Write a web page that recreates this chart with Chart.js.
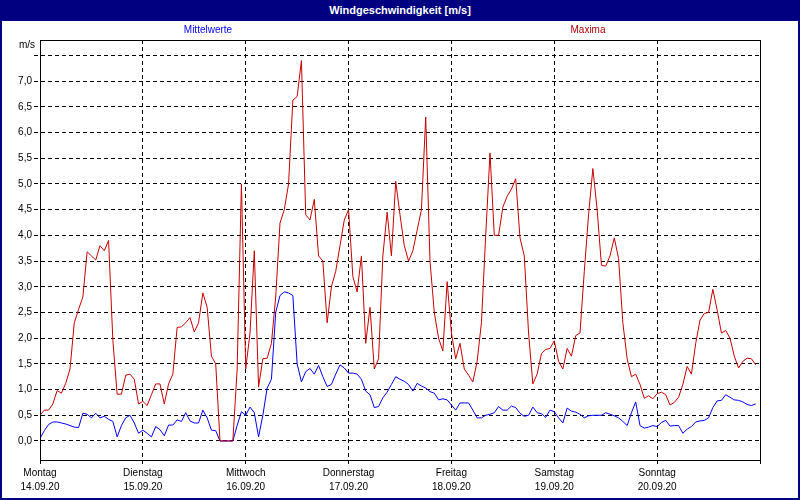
<!DOCTYPE html>
<html>
<head>
<meta charset="utf-8">
<title>Windgeschwindigkeit</title>
<script src="https://cdn.jsdelivr.net/npm/chart.js@4.4.1/dist/chart.umd.min.js"></script>
<style>
  body { margin: 0; background: #fff; }
  #wrap { position: relative; width: 800px; height: 500px; overflow: hidden; background: #fff;
          font-family: "Liberation Sans", Arial, sans-serif; }
  #chart { position: absolute; left: 0; top: 0; }
  #titlebar { position: absolute; left: 0; top: 0; width: 800px; height: 21px; background: #000080;
              color: #fff; font-weight: bold; font-size: 11px; line-height: 21px; text-align: center; }
  #edge { position: absolute; left: 0; top: 0; width: 800px; height: 500px; box-sizing: border-box;
          border: 2px solid #000080; pointer-events: none; }
  .lbl { position: absolute; font-size: 10px; line-height: 12px; white-space: nowrap; }
</style>
</head>
<body>
<div id="wrap">
  <canvas id="chart" width="800" height="500"></canvas>
  <div id="titlebar">Windgeschwindigkeit [m/s]</div>
  <div class="lbl" id="unit" style="right:765px; top:39px;">m/s</div>
  <div class="lbl" id="legMean" style="left:158px; width:100px; text-align:center; top:24px; color:#0000ff;"></div>
  <div class="lbl" id="legMax" style="left:538px; width:100px; text-align:center; top:24px; color:#b00000;"></div>
  <div id="edge"></div>
</div>
<script>
// Wochenverlauf, Stundenwerte ab Montag 00:00
const dayNames = ["Montag", "Dienstag", "Mittwoch", "Donnerstag", "Freitag", "Samstag", "Sonntag"];
const dayDates = ["14.09.20", "15.09.20", "16.09.20", "17.09.20", "18.09.20", "19.09.20", "20.09.20"];
const dayTicks = [0, 24, 48, 72, 96, 120, 144, 168];
const yTicks = [0, 0.5, 1, 1.5, 2, 2.5, 3, 3.5, 4, 4.5, 5, 5.5, 6, 6.5, 7, 7.5];

const seriesNames = ["Mittelwerte", "Maxima"];

// Mittelwerte [m/s]
const meanValues = [
  0.05, 0.2, 0.32, 0.37, 0.37, 0.35, 0.33, 0.3, 0.27, 0.26, 0.54, 0.52,
  0.45, 0.54, 0.45, 0.48, 0.42, 0.38, 0.08, 0.3, 0.45, 0.5, 0.35, 0.15,
  0.21, 0.15, 0.08, 0.28, 0.22, 0.1, 0.31, 0.31, 0.41, 0.38, 0.55, 0.39,
  0.35, 0.35, 0.6, 0.45, 0.21, 0.2, 0, 0, 0, 0, 0.3, 0.57,
  0.5, 0.66, 0.55, 0.08, 0.5, 1.03, 1.2, 2.5, 2.83, 2.9, 2.88, 2.83,
  1.5, 1.15, 1.35, 1.41, 1.3, 1.47, 1.25, 1.06, 1.1, 1.3, 1.48, 1.42,
  1.32, 1.32, 1.3, 1.2, 0.97, 0.9, 0.65, 0.67, 0.84, 0.95, 1.1, 1.25,
  1.2, 1.16, 1.1, 0.97, 1.12, 1.07, 1.03, 0.96, 0.93, 0.8, 0.82, 0.8,
  0.7, 0.6, 0.74, 0.74, 0.74, 0.6, 0.45, 0.45, 0.5, 0.52, 0.55, 0.67,
  0.6, 0.6, 0.68, 0.65, 0.54, 0.48, 0.5, 0.66, 0.55, 0.53, 0.46, 0.6,
  0.57, 0.45, 0.35, 0.64, 0.58, 0.56, 0.52, 0.45, 0.49, 0.5, 0.5, 0.5,
  0.55, 0.52, 0.49, 0.45, 0.38, 0.3, 0.55, 0.76, 0.3, 0.25, 0.27, 0.3,
  0.28, 0.36, 0.4, 0.29, 0.3, 0.3, 0.15, 0.23, 0.28, 0.37, 0.39, 0.4,
  0.45, 0.65, 0.78, 0.79, 0.9, 0.85, 0.8, 0.79, 0.76, 0.71, 0.69, 0.72
];

// Maxima [m/s]
const maxValues = [
  0.5, 0.6, 0.6, 0.72, 0.98, 0.93, 1.12, 1.4, 2.3, 2.56, 2.8, 3.68,
  3.6, 3.52, 3.8, 3.7, 3.9, 1.96, 0.91, 0.91, 1.28, 1.3, 1.2, 0.72,
  0.77, 0.69, 0.9, 1.11, 1.11, 0.72, 1.11, 1.3, 2.21, 2.22, 2.3, 2.4,
  2.12, 2.3, 2.88, 2.6, 1.65, 1.5, 0, 0, 0, 0, 1.4, 5.0,
  1.4, 2.1, 3.7, 1.05, 1.6, 1.61, 1.9, 2.8, 4.24, 4.5, 5.0, 6.63,
  6.7, 7.4, 4.4, 4.3, 4.7, 3.6, 3.5, 2.3, 3.0, 3.3, 3.8, 4.3,
  4.5, 3.2, 2.9, 3.6, 1.9, 2.6, 1.4, 1.6, 3.6, 4.45, 3.6, 5.05,
  4.4, 3.8, 3.5, 3.7, 4.1, 4.5, 6.3, 3.5, 2.5, 2.0, 1.75, 3.1,
  2.1, 1.6, 1.9, 1.4, 1.28, 1.15, 1.55, 2.3, 4.0, 5.6, 4.0, 4.0,
  4.55, 4.76, 4.9, 5.1, 3.95, 3.6, 2.1, 1.11, 1.3, 1.7, 1.78, 1.8,
  1.95, 1.55, 1.4, 1.8, 1.65, 2.05, 2.1, 3.3, 4.4, 5.3, 4.5, 3.42,
  3.4, 3.6, 3.95, 3.55, 2.3, 1.6, 1.25, 1.3, 1.1, 0.83, 0.88, 0.82,
  0.92, 0.95, 0.9, 0.7, 0.75, 0.85, 1.1, 1.45, 1.3, 1.9, 2.35, 2.48,
  2.5, 2.95, 2.55, 2.1, 2.15, 2.0, 1.65, 1.42, 1.55, 1.61, 1.6, 1.48
];

document.getElementById("legMean").textContent = seriesNames[0];
document.getElementById("legMax").textContent = seriesNames[1];

const FONT = { family: "'Liberation Sans', Arial, sans-serif", size: 10 };

// Rahmen um die Zeichenfläche
const framePlugin = {
  id: "frame",
  afterDraw(chart) {
    const { ctx, chartArea: a } = chart;
    ctx.save();
    ctx.strokeStyle = "#000";
    ctx.lineWidth = 1;
    ctx.setLineDash([]);
    ctx.strokeRect(Math.round(a.left) + 0.5, Math.round(a.top) + 0.5,
      Math.round(a.right - a.left), Math.round(a.bottom - a.top));
    ctx.restore();
  }
};

new Chart(document.getElementById("chart"), {
  type: "line",
  data: {
    datasets: [
      {
        label: seriesNames[1],
        data: maxValues.map((v, i) => ({ x: i, y: v })),
        borderColor: "#c80000",
        borderWidth: 1,
        pointRadius: 0,
        tension: 0
      },
      {
        label: seriesNames[0],
        data: meanValues.map((v, i) => ({ x: i, y: v })),
        borderColor: "#0000ff",
        borderWidth: 1,
        pointRadius: 0,
        tension: 0
      }
    ]
  },
  options: {
    responsive: false,
    devicePixelRatio: 1,
    animation: false,
    layout: { padding: { left: 0, top: 40, right: 40, bottom: 0 } },
    plugins: {
      legend: { display: false },
      title: { display: false },
      tooltip: { enabled: false }
    },
    scales: {
      x: {
        type: "linear",
        min: 0,
        max: 168,
        afterBuildTicks: (scale) => { scale.ticks = dayTicks.map(v => ({ value: v })); },
        afterFit: (scale) => { scale.height = 40; },
        ticks: {
          autoSkip: false,
          maxRotation: 0,
          padding: 2,
          color: "#000",
          font: { ...FONT, lineHeight: 1.4 },
          callback: (v) => v < 168 ? [dayNames[v / 24], dayDates[v / 24]] : ""
        },
        grid: { color: "#000", lineWidth: 1, tickLength: 4, tickBorderDash: [] },
        border: { display: true, color: "#000", dash: [4, 3] }
      },
      y: {
        min: -0.37,
        max: 7.8,
        afterBuildTicks: (scale) => { scale.ticks = yTicks.map(v => ({ value: v })); },
        afterFit: (scale) => { scale.width = 40; },
        ticks: {
          padding: 2,
          color: "#000",
          font: FONT,
          callback: (v) => v === 7.5 ? "" : v.toFixed(1).replace(".", ",")
        },
        grid: { color: "#000", lineWidth: 1, tickLength: 6, tickBorderDash: [4, 3] },
        border: { display: true, color: "#000", dash: [4, 3] }
      }
    }
  },
  plugins: [framePlugin]
});
</script>
</body>
</html>
